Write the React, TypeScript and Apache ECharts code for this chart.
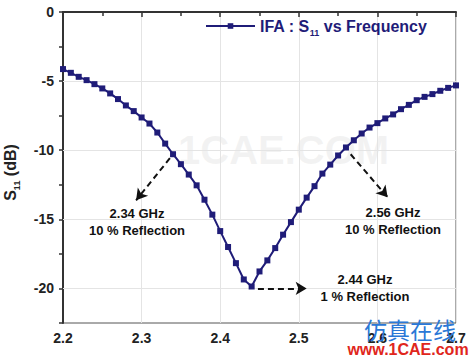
import React, { useEffect, useRef } from "react";
import * as echarts from "echarts";

const freq = [
  2.2, 2.21, 2.22, 2.23, 2.24, 2.25, 2.26, 2.27, 2.28, 2.29,
  2.3, 2.31, 2.32, 2.33, 2.34, 2.35, 2.36, 2.37, 2.38, 2.39,
  2.4, 2.41, 2.42, 2.43, 2.44, 2.45, 2.46, 2.47, 2.48, 2.49,
  2.5, 2.51, 2.52, 2.53, 2.54, 2.55, 2.56, 2.57, 2.58, 2.59,
  2.6, 2.61, 2.62, 2.63, 2.64, 2.65, 2.66, 2.67, 2.68, 2.69, 2.7,
];
const s11 = [
  -4.13, -4.4, -4.69, -4.93, -5.22, -5.53, -5.89, -6.3, -6.76, -7.17,
  -7.63, -8.07, -8.72, -9.52, -10.29, -11.01, -11.76, -12.54, -13.58, -14.66,
  -15.85, -17.0, -18.17, -19.35, -19.86, -18.77, -17.97, -17.08, -16.11, -15.2,
  -14.3, -13.43, -12.6, -11.69, -11.04, -10.38, -9.8, -9.28, -8.79, -8.36,
  -8.04, -7.7, -7.41, -7.03, -6.72, -6.38, -6.14, -5.94, -5.7, -5.49, -5.31,
];
const yGridValues = [-5, -10, -15, -20];
const arrows = [
  { from: [2.336, -10.58], to: [2.293, -13.62] },
  { from: [2.566, -10.29], to: [2.613, -13.4] },
  { from: [2.448, -20.0], to: [2.51, -20.0] },
];
const notes = [
  { lines: ["2.34 GHz", "10 % Reflection"], x: 137, y: 222 },
  { lines: ["2.56 GHz", "10 % Reflection"], x: 393, y: 221 },
  { lines: ["2.44 GHz", "1 % Reflection"], x: 365, y: 288 },
];

export default function App() {
  const ref = useRef<HTMLDivElement>(null);
  useEffect(() => {
    document.body.style.margin = "0";
    const chart = echarts.init(ref.current!, undefined, { renderer: "svg" });
    const navy = "#1f1c78";
    const font = "Arial, 'Liberation Sans', sans-serif";
    chart.setOption({
      animation: false,
      backgroundColor: "#ffffff",
      grid: {
        left: 63,
        top: 12,
        right: 14,
        bottom: 34,
        outerBoundsMode: "none",
        containLabel: false,
        show: true,
        borderColor: "#555",
        borderWidth: 1,
      },
      legend: {
        left: 200,
        top: 13,
        itemWidth: 49,
        itemHeight: 7,
        itemGap: 3,
        data: [{ name: "IFA" }],
        formatter: () => "{a|IFA : S}{b|11}{a| vs Frequency}",
        textStyle: {
          rich: {
            a: { fontSize: 16, fontWeight: "bold", color: navy, fontFamily: font },
            b: { fontSize: 9, fontWeight: "bold", color: navy, fontFamily: font, padding: [13, 0, 0, 0] },
          },
        },
      },
      xAxis: {
        type: "value",
        min: 2.2,
        max: 2.7,
        interval: 0.1,
        axisLine: { show: true, lineStyle: { color: "#333", width: 2 } },
        axisTick: { show: true, length: 5, lineStyle: { color: "#333", width: 1.5 } },
        minorTick: { show: true, splitNumber: 2, length: 4, lineStyle: { color: "#333", width: 1.5 } },
        splitLine: { show: true, lineStyle: { color: "#e4e4e4", width: 1 } },
        axisLabel: {
          formatter: (v: number) => v.toFixed(1),
          fontSize: 14,
          fontWeight: "bold",
          color: "#222",
          fontFamily: font,
          margin: 8,
        },
      },
      yAxis: {
        type: "value",
        min: -22.5,
        max: 0,
        interval: 2.5,
        name: "{a|S}{b|11}{a| (dB)}",
        nameLocation: "middle",
        nameRotate: 90,
        nameGap: 42,
        nameTextStyle: {
          padding: [0, 10, 0, 0],
          rich: {
            a: { fontSize: 16, fontWeight: "bold", color: "#222", fontFamily: font },
            b: { fontSize: 9, fontWeight: "bold", color: "#222", fontFamily: font, padding: [12, 0, 0, 0] },
          },
        },
        axisLine: { show: true, lineStyle: { color: "#333", width: 2 } },
        axisTick: { show: true, length: 4, lineStyle: { color: "#333", width: 1.5 } },
        splitLine: { show: false },
        axisLabel: {
          formatter: (v: number) => (Math.abs(v % 5) < 1e-6 ? String(Math.round(v)) : ""),
          fontSize: 14,
          fontWeight: "bold",
          color: "#222",
          fontFamily: font,
          margin: 9,
        },
      },
      graphic: [
        {
          type: "text",
          left: 178,
          top: 130,
          z: 0,
          style: {
            text: "1CAE.COM",
            fontSize: 40,
            fontWeight: "bold",
            fill: "rgba(200,200,200,0.22)",
            fontFamily: font,
          },
        },
        ...notes.map((n) => ({
          type: "text",
          x: n.x,
          y: n.y,
          z: 10,
          style: {
            text: n.lines.join("\n"),
            fontSize: 13,
            fontWeight: "bold",
            fill: "#111",
            fontFamily: font,
            align: "center",
            verticalAlign: "middle",
            lineHeight: 17,
          },
        })),
        {
          type: "text",
          x: 410,
          y: 329,
          z: 10,
          style: {
            text: "仿真在线",
            fontSize: 23,
            fill: "#2b78d6",
            fontFamily: "'Noto Sans CJK SC', sans-serif",
            align: "center",
            verticalAlign: "middle",
          },
        },
        {
          type: "text",
          x: 408,
          y: 349,
          z: 10,
          style: {
            text: "www.1CAE.com",
            fontSize: 16,
            fontWeight: "bold",
            fill: "#e0261c",
            fontFamily: font,
            align: "center",
            verticalAlign: "middle",
          },
        },
      ],
      series: [
        {
          name: "IFA",
          type: "line",
          data: freq.map((f, i) => [f, s11[i]]),
          symbol: "rect",
          symbolSize: 6,
          showSymbol: true,
          lineStyle: { color: navy, width: 2 },
          itemStyle: { color: navy },
          z: 5,
          markLine: {
            silent: true,
            symbol: "none",
            label: { show: false },
            lineStyle: { color: "#e4e4e4", width: 1, type: "solid" },
            z: 1,
            data: yGridValues.map((v) => ({ yAxis: v })),
          },
        },
        {
          name: "arrows",
          type: "line",
          data: [],
          markLine: {
            silent: true,
            symbol: ["none", "arrow"],
            symbolSize: [10, 11],
            label: { show: false },
            lineStyle: { color: "#111", width: 2, type: [6, 4] },
            data: arrows.map((a) => [{ coord: a.from }, { coord: a.to }]),
          },
        },
      ],
    });
    return () => chart.dispose();
  }, []);
  return <div ref={ref} style={{ width: 470, height: 357 }} />;
}
